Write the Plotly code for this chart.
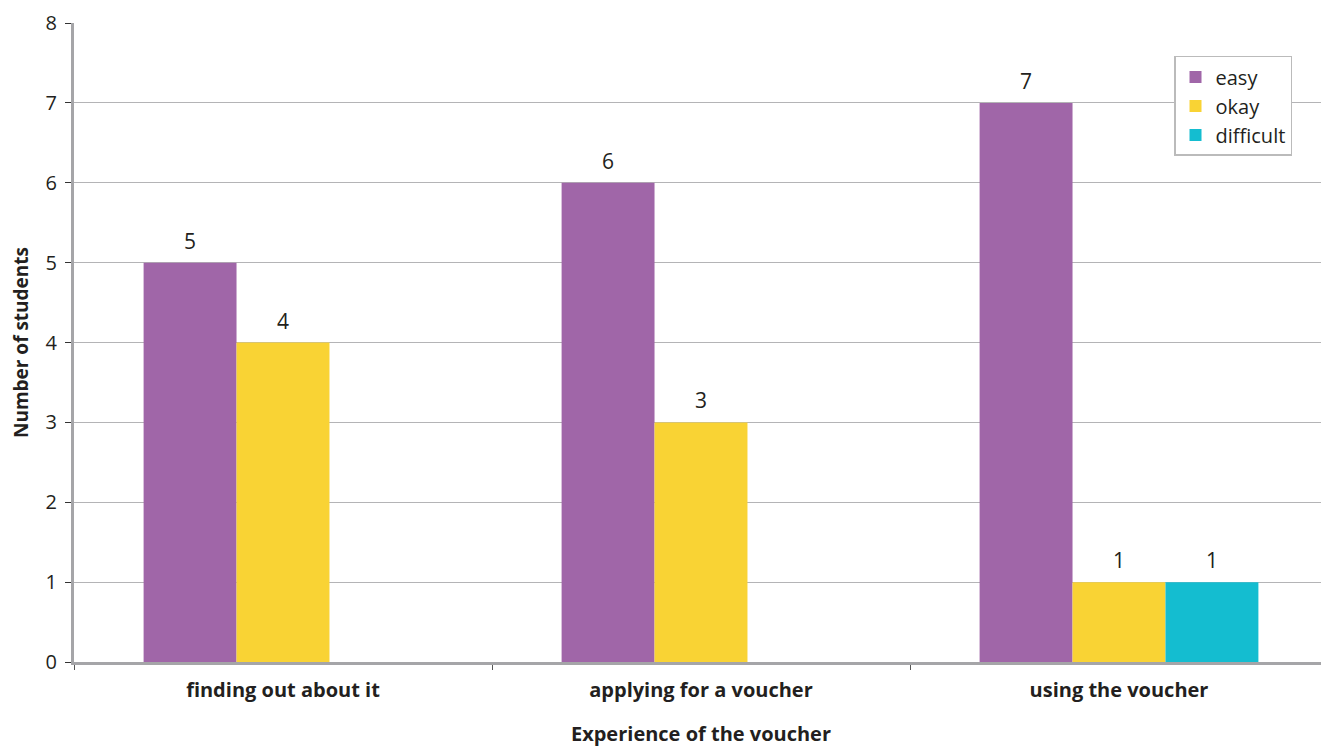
import plotly.graph_objects as go

categories = ["finding out about it", "applying for a voucher", "using the voucher"]
easy = [5, 6, 7]
okay = [4, 3, 1]
difficult = [None, None, 1]
y_ticks = [0, 1, 2, 3, 4, 5, 6, 7, 8]

series = [
    ("easy", easy, "#A066A8"),
    ("okay", okay, "#F9D334"),
    ("difficult", difficult, "#14BDD0"),
]

font = "Open Sans, Lato, sans-serif"
ink = "#231F20"

fig = go.Figure()
for name, vals, color in series:
    fig.add_trace(go.Bar(
        x=categories,
        y=vals,
        name=name,
        marker=dict(color=color, line=dict(width=0)),
    ))

# value labels above each bar (bar width ~93px, three bars per group)
bar_px = 93
for i, (name, vals, color) in enumerate(series):
    for cat, v in zip(categories, vals):
        if v is None:
            continue
        fig.add_annotation(
            x=cat, y=v, text=str(v), showarrow=False,
            xshift=(i - 1) * bar_px, yshift=6, yanchor="bottom",
            font=dict(size=21, color=ink, family=font),
        )

fig.update_layout(
    width=1321,
    height=739,
    barmode="group",
    bargap=0.333,
    bargroupgap=0,
    plot_bgcolor="white",
    paper_bgcolor="white",
    margin=dict(l=66, r=1, t=15, b=85, autoexpand=False),
    font=dict(family=font, color=ink),
    legend=dict(
        x=0.9713, y=0.9485, xanchor="right", yanchor="top",
        bordercolor="#BBBBBB", borderwidth=1.5,
        font=dict(size=20, color=ink),
        itemwidth=30,
        tracegroupgap=0,
    ),
    xaxis=dict(
        showgrid=False,
        showline=True, linecolor="#A5A5A8", linewidth=3,
        ticks="outside", tickson="boundaries", ticklen=5, tickcolor="#555555",
        ticklabelstandoff=8,
        automargin=False,
        tickfont=dict(size=20, family=font, weight="bold", color=ink),
        title=dict(text="Experience of the voucher", standoff=30,
                   font=dict(size=20, weight="bold", color=ink)),
    ),
    yaxis=dict(
        range=[0, 8],
        tickvals=y_ticks,
        showgrid=True, gridcolor="#B4B4B6", gridwidth=1,
        showline=True, linecolor="#A5A5A8", linewidth=3,
        ticks="outside", ticklen=6, tickcolor="#333333",
        ticklabelstandoff=4,
        ticklabeloverflow="allow",
        automargin=False,
        tickfont=dict(size=20, color=ink),
        title=dict(text="Number of students", standoff=17,
                   font=dict(size=19, weight="bold", color=ink)),
        zeroline=False,
    ),
    showlegend=True,
)

fig.add_shape(type="line", xref="paper", yref="paper", x0=1, x1=1, y0=0, y1=1,
              line=dict(color="#A5A5A8", width=2))

fig.write_html("out.html")
